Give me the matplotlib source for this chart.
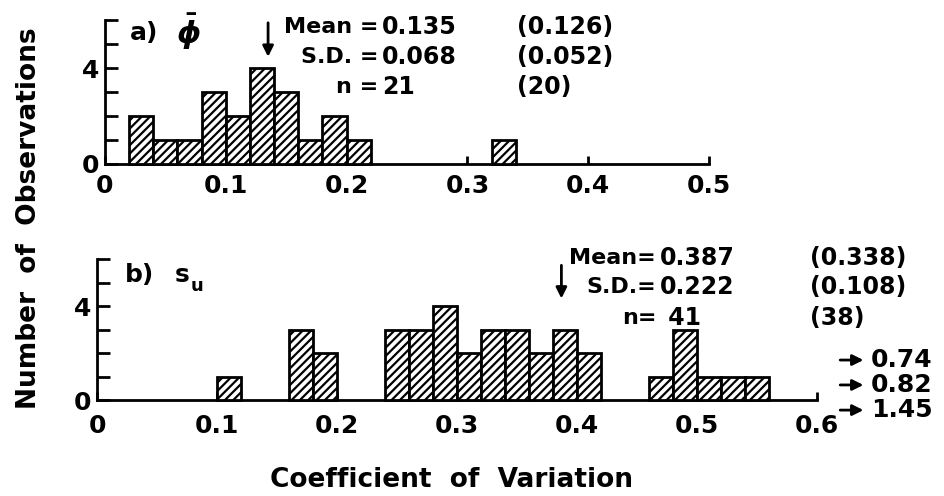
import matplotlib
matplotlib.use('Agg')
import matplotlib.pyplot as plt

plt.rcParams['font.family'] = ['DejaVu Sans']
plt.rcParams['font.weight'] = 'bold'
plt.rcParams['hatch.linewidth'] = 1.6

# panel a: mean porosity (phi bar), bins of 0.02
phi_left = [0.02, 0.04, 0.06, 0.08, 0.10, 0.12, 0.14, 0.16, 0.18, 0.20, 0.32]
phi_counts = [2, 1, 1, 3, 2, 4, 3, 1, 2, 1, 1]
phi_stats = ['Mean =', 'S.D. =', 'n =']
phi_vals = ['0.135', '0.068', '21']
phi_alt = ['(0.126)', '(0.052)', '(20)']
phi_mean = 0.135

# panel b: s_u, bins of 0.02
su_left = [0.10, 0.16, 0.18, 0.24, 0.26, 0.28, 0.30, 0.32, 0.34, 0.36, 0.38,
           0.40, 0.46, 0.48, 0.50, 0.52, 0.54]
su_counts = [1, 3, 2, 3, 3, 4, 2, 3, 3, 2, 3, 2, 1, 3, 1, 1, 1]
su_stats = ['Mean=', 'S.D.=', 'n=']
su_vals = ['0.387', '0.222', ' 41']
su_alt = ['(0.338)', '(0.108)', '(38)']
su_mean = 0.387
su_outliers = ['0.74', '0.82', '1.45']

bin_w = 0.02
W, H = 945, 496

fig = plt.figure(figsize=(W / 100, H / 100), dpi=100)
ax1 = fig.add_axes([105 / W, 1 - 164 / H, (709 - 105) / W, 144 / H])
ax2 = fig.add_axes([97 / W, 1 - 400 / H, (817 - 97) / W, 141 / H])


def style(ax, xmax, pad):
    ax.set_xlim(0, xmax)
    ax.set_ylim(0, 6)
    for s in ['top', 'right']:
        ax.spines[s].set_visible(False)
    for s in ['left', 'bottom']:
        ax.spines[s].set_linewidth(2)
    ax.set_yticks(range(7))
    ax.set_yticklabels(['0', '', '', '', '4', '', ''])
    ticks = [round(0.1 * i, 1) for i in range(int(round(xmax * 10)) + 1)]
    ax.set_xticks(ticks)
    ax.set_xticklabels(['0'] + [str(t) for t in ticks[1:]])
    ax.tick_params(axis='y', direction='in', length=9, width=2, labelsize=18, pad=4)
    ax.tick_params(axis='x', direction='in', length=6, width=2, labelsize=18, pad=pad)
    ax.patch.set_alpha(0)


style(ax1, 0.5, 7)
style(ax2, 0.6, 10)

ax1.bar(phi_left, phi_counts, width=bin_w, align='edge', color='white',
        edgecolor='black', linewidth=2, hatch='////', zorder=3, clip_on=False)
ax2.bar(su_left, su_counts, width=bin_w, align='edge', color='white',
        edgecolor='black', linewidth=2, hatch='////', zorder=3, clip_on=False)

# panel labels
ax1.text(0.021, 5.45, 'a)', fontsize=18, va='center', ha='left')
ax1.text(0.059, 5.5, r'$\bar{\phi}$', fontsize=22, va='center', ha='left')
ax2.text(0.023, 5.3, 'b)', fontsize=18, va='center', ha='left')
ax2.text(0.065, 5.3, 's', fontsize=18, va='center', ha='left')
ax2.text(0.078, 4.85, 'u', fontsize=13, va='center', ha='left')

# stats blocks
for i, y in enumerate([5.7, 4.45, 3.2]):
    ax1.text(0.226, y, phi_stats[i], fontsize=16, ha='right', va='center', clip_on=False)
    ax1.text(0.229, y, phi_vals[i], fontsize=17, ha='left', va='center', clip_on=False)
    ax1.text(0.341, y, phi_alt[i], fontsize=17, ha='left', va='center', clip_on=False)
for i, y in enumerate([6.05, 4.8, 3.5]):
    ax2.text(0.466, y, su_stats[i], fontsize=16, ha='right', va='center', clip_on=False)
    ax2.text(0.469, y, su_vals[i], fontsize=17, ha='left', va='center', clip_on=False)
    ax2.text(0.594, y, su_alt[i], fontsize=17, ha='left', va='center', clip_on=False)

# mean arrows
arrow = dict(arrowstyle='-|>', color='black', lw=2, mutation_scale=16)
ax1.annotate('', xy=(phi_mean, 4.35), xytext=(phi_mean, 6.0), arrowprops=arrow,
             annotation_clip=False)
ax2.annotate('', xy=(su_mean, 4.2), xytext=(su_mean, 5.85), arrowprops=arrow,
             annotation_clip=False)

# values off the scale
for lab, y in zip(su_outliers, [1.7, 0.64, -0.43]):
    ax2.annotate('', xy=(0.641, y), xytext=(0.617, y), arrowprops=arrow,
                 annotation_clip=False)
    ax2.text(0.645, y, lab, fontsize=18, ha='left', va='center', clip_on=False)

fig.text(29 / W, 1 - 218 / H, 'Number  of  Observations', rotation=90,
         fontsize=19, ha='center', va='center')
fig.text(452 / W, 1 - 480 / H, 'Coefficient  of  Variation', fontsize=19,
         ha='center', va='center')

fig.savefig('out.png', dpi=100)
